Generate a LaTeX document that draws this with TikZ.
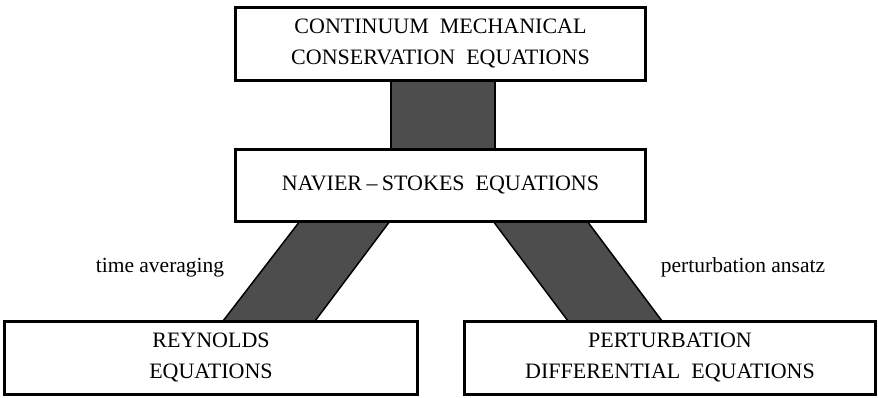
\documentclass[tikz,border=0pt]{standalone}
\usepackage{fontspec}
\setmainfont{Liberation Serif}
\usetikzlibrary{calc,backgrounds}
\definecolor{barfill}{HTML}{4D4D4D}
\begin{document}
\begin{tikzpicture}[x=1pt,y=-1pt,
  eqbox/.style={draw=black, line width=3pt, fill=white, rectangle,
    inner sep=0pt, outer sep=0pt, align=center,
    font=\fontsize{22}{31}\selectfont},
  flowbar/.style={fill=barfill, draw=black, line width=1.5pt, line join=miter},
  steplabel/.style={font=\fontsize{21.5}{25}\selectfont, anchor=base, inner sep=0pt}]
\useasboundingbox (0,0) rectangle (878,397);

% equation boxes
\node[eqbox, minimum width=410pt, minimum height=73pt] (cons) at (440.5,43.5)
  {CONTINUUM~~MECHANICAL\\CONSERVATION~~EQUATIONS};
\node[eqbox, minimum width=410pt, minimum height=72pt] (ns) at (440.5,185)
  {NAVIER\hspace{0.2em}--\hspace{0.2em}STOKES~~EQUATIONS};
\node[eqbox, minimum width=413pt, minimum height=73pt] (rey) at (211,357.5)
  {REYNOLDS\\EQUATIONS};
\node[eqbox, minimum width=411pt, minimum height=73pt] (pert) at (670,357.5)
  {PERTURBATION\\DIFFERENTIAL~~EQUATIONS};

% broad connectors behind the boxes
\begin{scope}[on background layer]
  \draw[flowbar] ($(cons.south west)+(155.5,0)$) -- ($(cons.south west)+(259.5,0)$)
    -- ($(ns.north west)+(259.5,0)$) -- ($(ns.north west)+(155.5,0)$) -- cycle;
  \draw[flowbar] ($(ns.south west)+(64.5,0)$) -- ($(ns.south west)+(154.5,0)$)
    -- ($(rey.north west)+(310.5,0)$) -- ($(rey.north west)+(218.5,0)$) -- cycle;
  \draw[flowbar] ($(ns.south west)+(257.5,0)$) -- ($(ns.south west)+(351.5,0)$)
    -- ($(pert.north west)+(197.5,0)$) -- ($(pert.north west)+(103.5,0)$) -- cycle;
\end{scope}

% step labels
\node[steplabel] (avg) at (160,272) {time averaging};
\node[steplabel] (ansatz) at (743,272) {perturbation ansatz};
\end{tikzpicture}
\end{document}
